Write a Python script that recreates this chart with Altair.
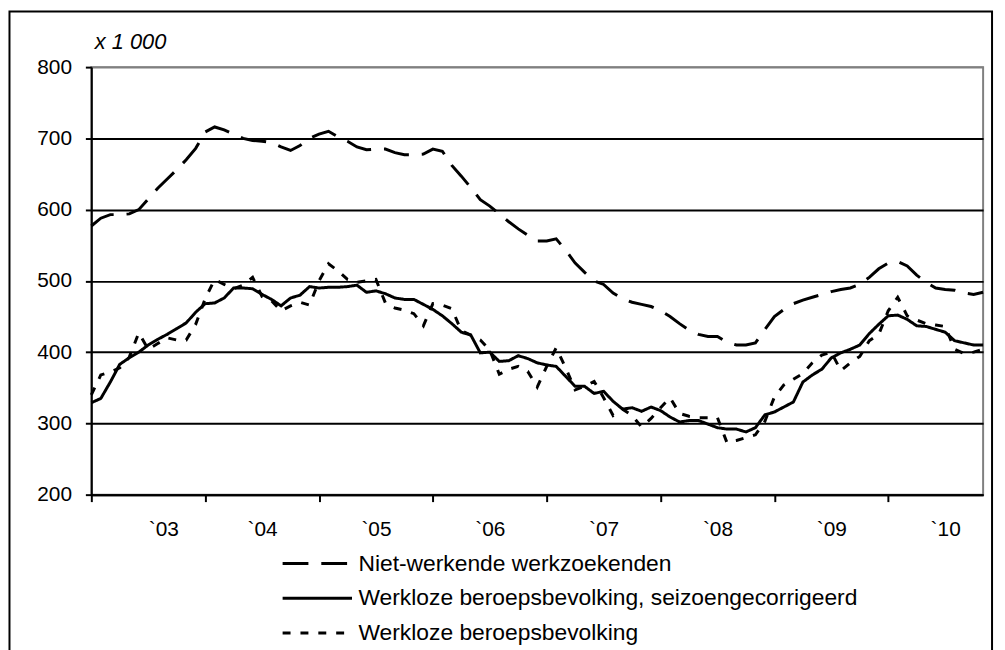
import altair as alt
import pandas as pd

# ---- data (x 1 000), monthly Jan 2003 .. Nov 2010 ----
year_labels = ["`03", "`04", "`05", "`06", "`07", "`08", "`09", "`10"]
series_names = [
    "Niet-werkende werkzoekenden",
    "Werkloze beroepsbevolking, seizoengecorrigeerd",
    "Werkloze beroepsbevolking",
]

niet_werkend = [
    577, 588, 593, 593, 594, 600, 615, 630, 643, 656, 670, 686,
    709, 716, 712, 706, 700, 697, 696, 694, 688, 683, 690, 700,
    706, 710, 702, 696, 688, 684, 685, 685, 680, 677, 677, 678,
    685, 682, 662, 647, 631, 614, 605, 594, 583, 573, 564, 556,
    556, 559, 543, 525, 512, 500, 495, 483, 475, 470, 467, 464,
    458, 450, 440, 431, 425, 422, 422, 414, 410, 410, 413, 432,
    450, 460, 468, 473, 477, 481, 485, 488, 490, 495, 505, 517,
    525, 527, 521, 508, 498, 490, 488, 487, 483, 481, 484,
]
werkloos_sa = [
    329, 335, 358, 383, 392, 400, 410, 418, 425, 433, 441, 456,
    468, 469, 476, 490, 490, 489, 481, 474, 465, 476, 480, 492,
    490, 491, 491, 492, 494, 484, 486, 482, 476, 474, 474, 467,
    460, 451, 440, 428, 424, 399, 400, 387, 388, 395, 391, 385,
    382, 380, 366, 352, 352, 342, 345, 331, 320, 322, 317, 323,
    318, 309, 302, 304, 304, 299, 294, 292, 292, 288, 294, 312,
    316, 323, 330, 358, 368, 376, 392, 399, 404, 410, 426, 439,
    451, 452, 446, 437, 436, 432, 428, 416, 413, 410, 410,
]
werkloos = [
    340, 368, 372, 378, 393, 427, 404, 412, 420, 417, 417, 439,
    475, 502, 495, 489, 494, 505, 478, 472, 458, 465, 470, 466,
    500, 524, 514, 502, 498, 500, 502, 469, 462, 459, 454, 437,
    468, 466, 461, 430, 424, 417, 403, 369, 376, 380, 373, 351,
    380, 406, 378, 347, 352, 359, 336, 311, 320, 311, 295, 307,
    322, 336, 314, 310, 308, 308, 308, 273, 276, 280, 284, 303,
    337, 354, 362, 370, 385, 396, 400, 374, 385, 394, 416, 425,
    458, 477, 451, 445, 440, 438, 436, 404, 398, 400, 404,
]

months = list(range(len(niet_werkend)))
rows = []
for name, vals in zip(series_names, [niet_werkend, werkloos_sa, werkloos]):
    for m, v in zip(months, vals):
        rows.append({"maand": m, "waarde": v, "reeks": name})
df = pd.DataFrame(rows)

W, H = 899, 431
FONT = "Liberation Sans"
FS = 21
month_px = W / (len(months) - 1)

label_expr = "[" + ",".join("'" + s + "'" for s in year_labels) + "][round(datum.value / 12)]"

x_axis = alt.Axis(
    values=list(range(0, 12 * len(year_labels), 12)),
    labelExpr=label_expr,
    labelOffset=6 * month_px,
    labelFontSize=FS,
    labelFont=FONT,
    labelColor="black",
    labelPadding=17,
    tickSize=7,
    tickWidth=2,
    tickColor="black",
    domainColor="black",
    domainWidth=2,
    grid=False,
    title=None,
)
y_axis = alt.Axis(
    values=list(range(200, 801, 100)),
    labelFontSize=FS,
    labelFont=FONT,
    labelColor="black",
    labelPadding=14,
    tickSize=6,
    tickWidth=2,
    tickColor="black",
    domainColor="black",
    domainWidth=2,
    grid=True,
    gridColor={"condition": {"test": "datum.value === 800", "value": "#808080"}, "value": "black"},
    gridWidth=2,
    title="x 1 000",
    titleAngle=0,
    titleAlign="left",
    titleBaseline="alphabetic",
    titleX=3,
    titleY=-19,
    titleFont=FONT,
    titleFontSize=22,
    titleFontStyle="italic",
    titleFontWeight="normal",
    titleColor="black",
)

# legend sample: a horizontal stroke path (3x wider than the default symbol box)
SYM_PATH = "M-3,0H3"
SYM_SIZE = 544          # sqrt(544) * 3 ~ 70 px long sample line
SYM_BOX = SYM_SIZE ** 0.5

legend = alt.Legend(
    title=None,
    orient="none",
    legendX=191 + SYM_BOX,
    legendY=487,
    direction="vertical",
    symbolType=SYM_PATH,
    symbolSize=SYM_SIZE,
    symbolStrokeWidth=3,
    symbolStrokeColor="black",
    symbolFillColor="transparent",
    labelFont=FONT,
    labelFontSize=23,
    labelColor="black",
    labelOffset=int(SYM_BOX) + 5,
    labelLimit=1000,
    rowPadding=9,
    padding=0,
)

lines = alt.Chart(df).mark_line(color="black", strokeWidth=3).encode(
    x=alt.X("maand:Q", scale=alt.Scale(domain=[0, len(months) - 1], nice=False, zero=False), axis=x_axis),
    y=alt.Y("waarde:Q", scale=alt.Scale(domain=[200, 800], nice=False, zero=False), axis=y_axis),
    strokeDash=alt.StrokeDash(
        "reeks:N",
        scale=alt.Scale(domain=series_names, range=[[26, 13], [1, 0], [8, 10]]),
        legend=legend,
    ),
)

frame = alt.Chart(pd.DataFrame({"k": [0]})).mark_rect(
    fillOpacity=0, stroke="black", strokeWidth=2
).encode(
    x=alt.value(-82.5), x2=alt.value(908), y=alt.value(-56), y2=alt.value(640)
)

chart = alt.layer(frame, lines).properties(
    width=W,
    height=H,
    autosize=alt.AutoSizeParams(type="none"),
    padding={"left": 84, "top": 57, "right": 14, "bottom": 154},
).configure(font=FONT).configure_view(stroke="#808080", strokeWidth=2)

chart.save("out.html", embed_options={"renderer": "svg", "actions": False})
